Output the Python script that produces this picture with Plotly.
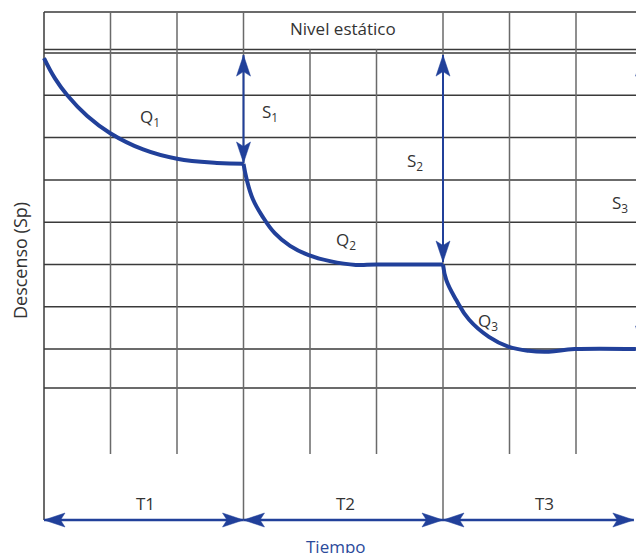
import plotly.graph_objects as go

# ---------------- data (grid units: time cells, descent cells) ----------------
tiempo_q1 = [0.0, 0.165, 0.35, 0.65, 0.99, 1.49, 2.0, 2.6, 3.0]
descenso_q1 = [0.12, 0.6, 1.0, 1.49, 1.89, 2.28, 2.5, 2.6, 2.62]

tiempo_q2 = [3.0, 3.05, 3.14, 3.28, 3.47, 3.7, 3.98, 4.3, 4.69, 5.0, 6.0]
descenso_q2 = [2.62, 3.0, 3.45, 3.85, 4.26, 4.56, 4.78, 4.92, 5.01, 5.0, 5.0]

tiempo_q3 = [6.0, 6.05, 6.2, 6.39, 6.69, 6.98, 7.29, 7.59, 7.98, 8.9]
descenso_q3 = [5.0, 5.37, 5.84, 6.3, 6.71, 6.94, 7.04, 7.06, 7.0, 7.0]

s_labels = ["S<sub>1</sub>", "S<sub>2</sub>", "S<sub>3</sub>"]
s_tiempo = [3, 6, 9]
s_nivel = [0.05, 0.05, 0.05]
s_descenso = [2.6, 4.94, 6.95]

t_labels = ["T1", "T2", "T3"]
t_inicio = [0, 3, 6]
t_fin = [3, 6, 8.87]

q_labels = ["Q<sub>1</sub>", "Q<sub>2</sub>", "Q<sub>3</sub>"]

# ---------------- layout geometry ----------------
W, H = 636, 553
X0_PX, X_UNIT = 44, 66.5
Y0_PX, Y_UNIT = 53, 42.3


def px_x(p):
    return (p - X0_PX) / X_UNIT


def px_y(p):
    return (p - Y0_PX) / Y_UNIT


BLUE = "#21409a"
HCOL = "#3a3a3a"
VCOL = "#6a6a6a"
TXT = "#333333"
FONT = "Open Sans"

fig = go.Figure()

# curves
for tx, dy in [(tiempo_q1, descenso_q1), (tiempo_q2, descenso_q2), (tiempo_q3, descenso_q3)]:
    fig.add_trace(go.Scatter(x=tx, y=dy, mode="lines",
                             line=dict(color=BLUE, width=4, shape="spline", smoothing=1.2),
                             hoverinfo="skip", showlegend=False))

shapes = []
y_top = px_y(12)
y_short = px_y(454)
y_arrow = px_y(520)
x_right = px_x(W + 10)

# horizontal grid lines
for yy in [y_top, px_y(49.5), 0, 1, 2, 3, 4, 5, 6, 7, px_y(388)]:
    shapes.append(dict(type="line", xref="x", yref="y", x0=0, x1=x_right, y0=yy, y1=yy,
                       line=dict(color=HCOL, width=1.5), layer="below"))

# vertical grid lines
for xx in range(0, 10):
    if xx in (0, 3, 6):
        y0, y1 = y_top, y_arrow
    elif xx in (4, 5):
        y0, y1 = px_y(49.5), y_short
    else:
        y0, y1 = y_top, y_short
    col = HCOL if xx == 0 else VCOL
    shapes.append(dict(type="line", xref="x", yref="y", x0=xx, x1=xx, y0=y0, y1=y1,
                       line=dict(color=col, width=1.5), layer="below"))

# arrowhead outline in pixels (pointing in +u direction, tip at origin)
HEAD_L, HEAD_W, NOTCH = 21, 7, 4.5


def head(x, y, dx, dy):
    # dx, dy: unit direction in screen pixels (y down)
    pts = [(0, 0), (-HEAD_L, HEAD_W), (-HEAD_L + NOTCH, 0), (-HEAD_L, -HEAD_W)]
    path = []
    for i, (u, v) in enumerate(pts):
        sx = u * dx - v * dy
        sy = u * dy + v * dx
        path.append(("M" if i == 0 else "L") + f"{sx:.2f},{-sy:.2f}")
    return dict(type="path", xref="x", yref="y", xsizemode="pixel", ysizemode="pixel",
                xanchor=x, yanchor=y, path=" ".join(path) + " Z",
                fillcolor=BLUE, line=dict(color=BLUE, width=0.5))


def dbl_arrow(x0, y0, x1, y1, width):
    out = [dict(type="line", xref="x", yref="y", x0=x0, y0=y0, x1=x1, y1=y1,
                line=dict(color=BLUE, width=width))]
    if x0 == x1:
        out.append(head(x0, y0, 0, -1))
        out.append(head(x1, y1, 0, 1))
    else:
        out.append(head(x0, y0, -1, 0))
        out.append(head(x1, y1, 1, 0))
    return out


for xx, y0, y1 in zip(s_tiempo, s_nivel, s_descenso):
    shapes.extend(dbl_arrow(xx, y0, xx, y1, 2))

for x0, x1 in zip(t_inicio, t_fin):
    shapes.extend(dbl_arrow(x0, y_arrow, x1, y_arrow, 2.5))

annotations = []


def label(text, xp, yp, size=17, color=TXT, angle=0):
    return dict(x=px_x(xp), y=px_y(yp), xref="x", yref="y", text=text, showarrow=False,
                font=dict(family=FONT, size=size, color=color), textangle=angle,
                xanchor="center", yanchor="middle")


annotations.append(label("Nivel estático", 343, 28))
for t, (xp, yp) in zip(q_labels, [(150, 117), (346, 240), (488, 321)]):
    annotations.append(label(t, xp, yp))
for t, (xp, yp) in zip(s_labels, [(270, 112), (415, 161), (620, 203)]):
    annotations.append(label(t, xp, yp))
for t, xp in zip(t_labels, [145, 345, 544]):
    annotations.append(label(t, xp, 503))
annotations.append(label("Tiempo", 336, 546, color="#2b4a9b"))
annotations.append(label("Descenso (Sp)", 20, 261, size=18, angle=-90))

fig.update_layout(
    width=W, height=H,
    margin=dict(l=0, r=0, t=0, b=0),
    paper_bgcolor="white", plot_bgcolor="white",
    xaxis=dict(range=[px_x(0), px_x(W)], visible=False, fixedrange=True),
    yaxis=dict(range=[px_y(H), px_y(0)], visible=False, fixedrange=True),
    shapes=shapes, annotations=annotations, showlegend=False,
)

fig.write_html("out.html", config={"displayModeBar": False},
               post_script="document.body.style.margin='0';document.body.style.overflow='hidden';")
